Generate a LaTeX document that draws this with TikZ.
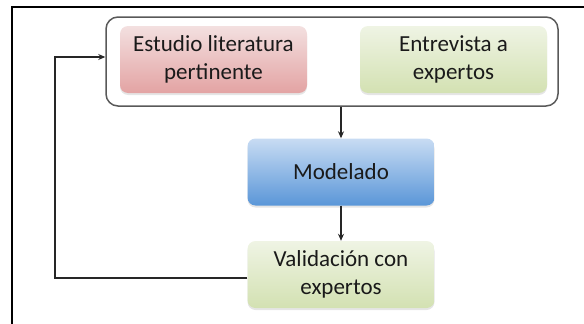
\documentclass[tikz,border=0pt]{standalone}
\usepackage{fontspec}
\setmainfont{Carlito}
\usetikzlibrary{arrows.meta,shadows}
\definecolor{redtop}{HTML}{F3E0E0}
\definecolor{redbot}{HTML}{E3A3A3}
\definecolor{grntop}{HTML}{EFF4E4}
\definecolor{grnbot}{HTML}{D3E1B2}
\definecolor{blutop}{HTML}{C8DCF3}
\definecolor{blubot}{HTML}{5A96D8}
\definecolor{txt}{HTML}{1A1A1A}
\tikzset{
  pbox/.style={rounded corners=8pt, minimum width=187pt, minimum height=67pt,
    align=center, text=txt, font=\fontsize{23}{28}\selectfont,
    drop shadow={shadow xshift=0pt, shadow yshift=-2pt, opacity=0.25, fill=black!40}},
  redbox/.style={pbox, top color=redtop, bottom color=redbot},
  grnbox/.style={pbox, top color=grntop, bottom color=grnbot},
  blubox/.style={pbox, top color=blutop, bottom color=blubot},
  conn/.style={line width=1.3pt, draw=black!85, -{Stealth[length=7pt,width=6pt]}},
  frameline/.style={line width=1.6pt, black}
}
\begin{document}
\begin{tikzpicture}[x=1pt,y=-1pt]
\useasboundingbox (0,0) rectangle (584,324);
% page frame
\draw[frameline] (12,324) -- (12,7) -- (584,7);
% outer group box
\node[draw=black!65, line width=1.5pt, rounded corners=12pt, minimum width=452pt, minimum height=89pt] (grp) at (332,61.5) {};
\node[redbox] (lit) at (213.5,59.5) {Estudio literatura\\pertinente};
\node[grnbox] (ent) at (453.5,59.5) {Entrevista a\\expertos};
\node[blubox] (mod) at (341,172) {Modelado};
\node[grnbox] (val) at (341,274.5) {Validación con\\expertos};
\coordinate (c1) at (55,278);
\coordinate (c2) at (55,57);
\draw[conn] (grp.south -| mod.north) -- (mod.north);
\draw[conn] (mod.south) -- (val.north);
\draw[conn] (val.west |- c1) -- (c1) -- (c2) -- (c2 -| grp.west);
\end{tikzpicture}
\end{document}
